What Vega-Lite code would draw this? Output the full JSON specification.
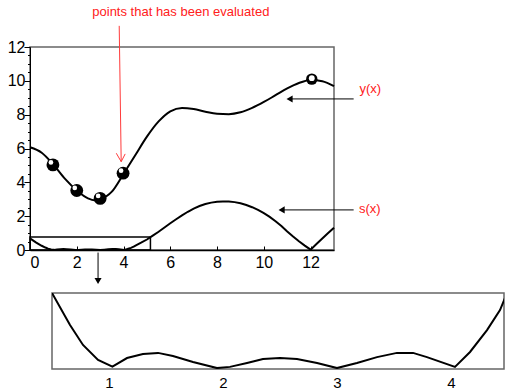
{
  "$schema": "https://vega.github.io/schema/vega-lite/v6.json",
  "autosize": {"type": "pad"},
  "padding": {"left": 6, "top": 5, "right": 0, "bottom": 0},
  "background": "white",
  "config": {
    "font": "Liberation Sans",
    "axis": {"labelFont": "Liberation Sans", "labelColor": "black", "domainColor": "black", "tickColor": "black", "grid": false, "labelFontSize": 16},
    "view": {"stroke": "#666", "strokeWidth": 1.5}
  },
  "datasets": {
    "curve_y": [
      {"x": 0, "y": 6.07}, {"x": 0.5, "y": 5.75}, {"x": 1.0, "y": 5.05}, {"x": 1.5, "y": 4.2},
      {"x": 2.0, "y": 3.52}, {"x": 2.5, "y": 3.04}, {"x": 2.75, "y": 2.94}, {"x": 3.0, "y": 3.0},
      {"x": 3.5, "y": 3.45}, {"x": 4.0, "y": 4.5}, {"x": 4.5, "y": 5.6}, {"x": 5.0, "y": 6.7},
      {"x": 5.5, "y": 7.6}, {"x": 6.0, "y": 8.2}, {"x": 6.5, "y": 8.4}, {"x": 7.0, "y": 8.33},
      {"x": 7.5, "y": 8.17}, {"x": 8.0, "y": 8.05}, {"x": 8.5, "y": 8.03}, {"x": 9.0, "y": 8.14},
      {"x": 9.5, "y": 8.4}, {"x": 10.0, "y": 8.75}, {"x": 10.5, "y": 9.15}, {"x": 11.0, "y": 9.55},
      {"x": 11.5, "y": 9.87}, {"x": 12.0, "y": 10.05}, {"x": 12.5, "y": 9.98}, {"x": 13.0, "y": 9.68}
    ],
    "curve_s": [
      {"x": 0, "y": 0.69}, {"x": 0.25, "y": 0.45}, {"x": 0.5, "y": 0.25}, {"x": 0.658, "y": 0.145},
      {"x": 0.772, "y": 0.079}, {"x": 0.904, "y": 0.03}, {"x": 1.03, "y": 0.008}, {"x": 1.158, "y": 0.036},
      {"x": 1.298, "y": 0.049}, {"x": 1.43, "y": 0.053}, {"x": 1.561, "y": 0.043}, {"x": 1.737, "y": 0.023},
      {"x": 1.947, "y": 0.003}, {"x": 2.061, "y": 0.007}, {"x": 2.211, "y": 0.02}, {"x": 2.351, "y": 0.033},
      {"x": 2.5, "y": 0.036}, {"x": 2.649, "y": 0.033}, {"x": 2.825, "y": 0.02}, {"x": 3.0, "y": 0.003},
      {"x": 3.175, "y": 0.02}, {"x": 3.351, "y": 0.039}, {"x": 3.526, "y": 0.053}, {"x": 3.667, "y": 0.053},
      {"x": 3.789, "y": 0.039}, {"x": 4.035, "y": 0.007}, {"x": 4.167, "y": 0.056}, {"x": 4.316, "y": 0.128},
      {"x": 4.43, "y": 0.194}, {"x": 4.474, "y": 0.234}, {"x": 4.55, "y": 0.29}, {"x": 4.75, "y": 0.43},
      {"x": 5.0, "y": 0.62}, {"x": 5.25, "y": 0.85}, {"x": 5.5, "y": 1.08}, {"x": 5.75, "y": 1.33},
      {"x": 6.0, "y": 1.58}, {"x": 6.25, "y": 1.82}, {"x": 6.5, "y": 2.05}, {"x": 6.75, "y": 2.26},
      {"x": 7.0, "y": 2.45}, {"x": 7.25, "y": 2.6}, {"x": 7.5, "y": 2.72}, {"x": 7.75, "y": 2.8},
      {"x": 8.0, "y": 2.85}, {"x": 8.25, "y": 2.87}, {"x": 8.5, "y": 2.87}, {"x": 8.75, "y": 2.83},
      {"x": 9.0, "y": 2.76}, {"x": 9.25, "y": 2.66}, {"x": 9.5, "y": 2.53}, {"x": 9.75, "y": 2.37},
      {"x": 10.0, "y": 2.18}, {"x": 10.25, "y": 1.96}, {"x": 10.5, "y": 1.7}, {"x": 10.75, "y": 1.42},
      {"x": 11.0, "y": 1.1}, {"x": 11.25, "y": 0.8}, {"x": 11.5, "y": 0.52}, {"x": 11.75, "y": 0.26},
      {"x": 12.0, "y": 0.02}, {"x": 12.25, "y": 0.35}, {"x": 12.5, "y": 0.68}, {"x": 12.75, "y": 1.0},
      {"x": 13.0, "y": 1.32}
    ],
    "spheres": [
      {"x": 0.98, "y": 5.03}, {"x": 2.0, "y": 3.52}, {"x": 3.0, "y": 3.05}, {"x": 3.98, "y": 4.54}
    ],
    "rings": [{"x": 12.05, "y": 10.1}],
    "box": [{"x": 0, "x2": 5.15, "y": 0, "y2": 0.77}],
    "h_arrows": [{"x": 11.1, "x2": 13.84, "y": 8.93}, {"x": 10.76, "x2": 13.84, "y": 2.37}],
    "h_heads": [{"x": 11.1, "y": 8.93}, {"x": 10.76, "y": 2.37}],
    "v_arrow": [{"x": 2.91, "y": -0.15, "y2": -1.83}],
    "v_head": [{"x": 2.91, "y": -1.83}],
    "red_arrow": [
      {"seg": "shaft", "x": 3.815, "y": 13.25}, {"seg": "shaft", "x": 3.9, "y": 5.22},
      {"seg": "head", "x": 3.69, "y": 5.72}, {"seg": "head", "x": 3.9, "y": 5.22}, {"seg": "head", "x": 4.07, "y": 5.68}
    ],
    "notes": [
      {"x": 6.45, "y": 14.08, "label": "points that has been evaluated"},
      {"x": 14.55, "y": 9.53, "label": "y(x)"},
      {"x": 14.53, "y": 2.43, "label": "s(x)"}
    ]
  },
  "spacing": 43,
  "bounds": "flush",
  "vconcat": [
    {
      "width": 304,
      "height": 203,
      "encoding": {
        "x": {"field": "x", "type": "quantitative", "scale": {"domain": [0, 13], "nice": false, "zero": false},
              "axis": {"values": [0, 2, 4, 6, 8, 10, 12], "format": "~g", "tickSize": -4, "labelPadding": 8, "domainWidth": 1.5, "title": null}},
        "y": {"field": "y", "type": "quantitative", "scale": {"domain": [0, 12], "nice": false},
              "axis": {"values": [0, 0.5, 1, 1.5, 2, 2.5, 3, 3.5, 4, 4.5, 5, 5.5, 6, 6.5, 7, 7.5, 8, 8.5, 9, 9.5, 10, 10.5, 11, 11.5, 12],
                       "format": "~g",
                       "labelExpr": "datum.value % 2 === 0 ? datum.label : ''",
                       "tickSize": {"condition": {"test": "datum.value % 2 === 0", "value": 6}, "value": 2.5},
                       "labelPadding": -1, "title": null}}
      },
      "layer": [
        {"data": {"name": "box"}, "mark": {"type": "rect", "fill": null, "stroke": "black", "strokeWidth": 1.5},
         "encoding": {"x2": {"field": "x2"}, "y2": {"field": "y2"}}},
        {"data": {"name": "curve_y"}, "mark": {"type": "line", "color": "black", "strokeWidth": 2, "interpolate": "monotone"}},
        {"data": {"name": "curve_s"}, "mark": {"type": "line", "color": "black", "strokeWidth": 2}},
        {"data": {"name": "spheres"}, "mark": {"type": "circle", "color": "black", "opacity": 1, "size": 165}},
        {"data": {"name": "spheres"}, "mark": {"type": "circle", "color": "white", "opacity": 1, "size": 22, "xOffset": -2, "yOffset": -2.5}},
        {"data": {"name": "rings"}, "mark": {"type": "circle", "color": "black", "opacity": 1, "size": 130}},
        {"data": {"name": "rings"}, "mark": {"type": "circle", "color": "white", "opacity": 1, "size": 34, "yOffset": -1}},
        {"data": {"name": "h_arrows"}, "mark": {"type": "rule", "color": "black", "strokeWidth": 1, "clip": false},
         "encoding": {"x2": {"field": "x2"}}},
        {"data": {"name": "h_heads"}, "mark": {"type": "point", "shape": "triangle-left", "filled": true, "color": "black", "opacity": 1, "size": 50, "clip": false}},
        {"data": {"name": "v_arrow"}, "mark": {"type": "rule", "color": "black", "strokeWidth": 1, "clip": false},
         "encoding": {"y2": {"field": "y2"}}},
        {"data": {"name": "v_head"}, "mark": {"type": "point", "shape": "triangle-down", "filled": true, "color": "black", "opacity": 1, "size": 50, "clip": false}},
        {"data": {"name": "red_arrow"}, "mark": {"type": "line", "color": "#ff3b3b", "strokeWidth": 1, "clip": false},
         "encoding": {"detail": {"field": "seg"}}},
        {"data": {"name": "notes"}, "mark": {"type": "text", "color": "#ff2020", "fontSize": 13, "align": "center", "baseline": "middle", "clip": false},
         "encoding": {"text": {"field": "label"}}}
      ]
    },
    {
      "spacing": 0,
      "bounds": "flush",
      "hconcat": [
        {"width": 22, "height": 76, "data": {"values": [{}]}, "mark": {"type": "point", "opacity": 0}, "view": {"stroke": null}},
        {
          "width": 452,
          "height": 76,
          "data": {"name": "curve_s"},
          "mark": {"type": "line", "color": "black", "strokeWidth": 2, "clip": true},
          "encoding": {
            "x": {"field": "x", "type": "quantitative", "scale": {"domain": [0.5, 4.465], "nice": false, "zero": false},
                  "axis": {"values": [1, 2, 3, 4], "format": "~g", "ticks": false, "domain": false, "labelPadding": 6, "labelFontSize": 15, "title": null}},
            "y": {"field": "y", "type": "quantitative", "scale": {"domain": [0, 0.25], "nice": false}, "axis": null}
          }
        }
      ]
    }
  ]
}
